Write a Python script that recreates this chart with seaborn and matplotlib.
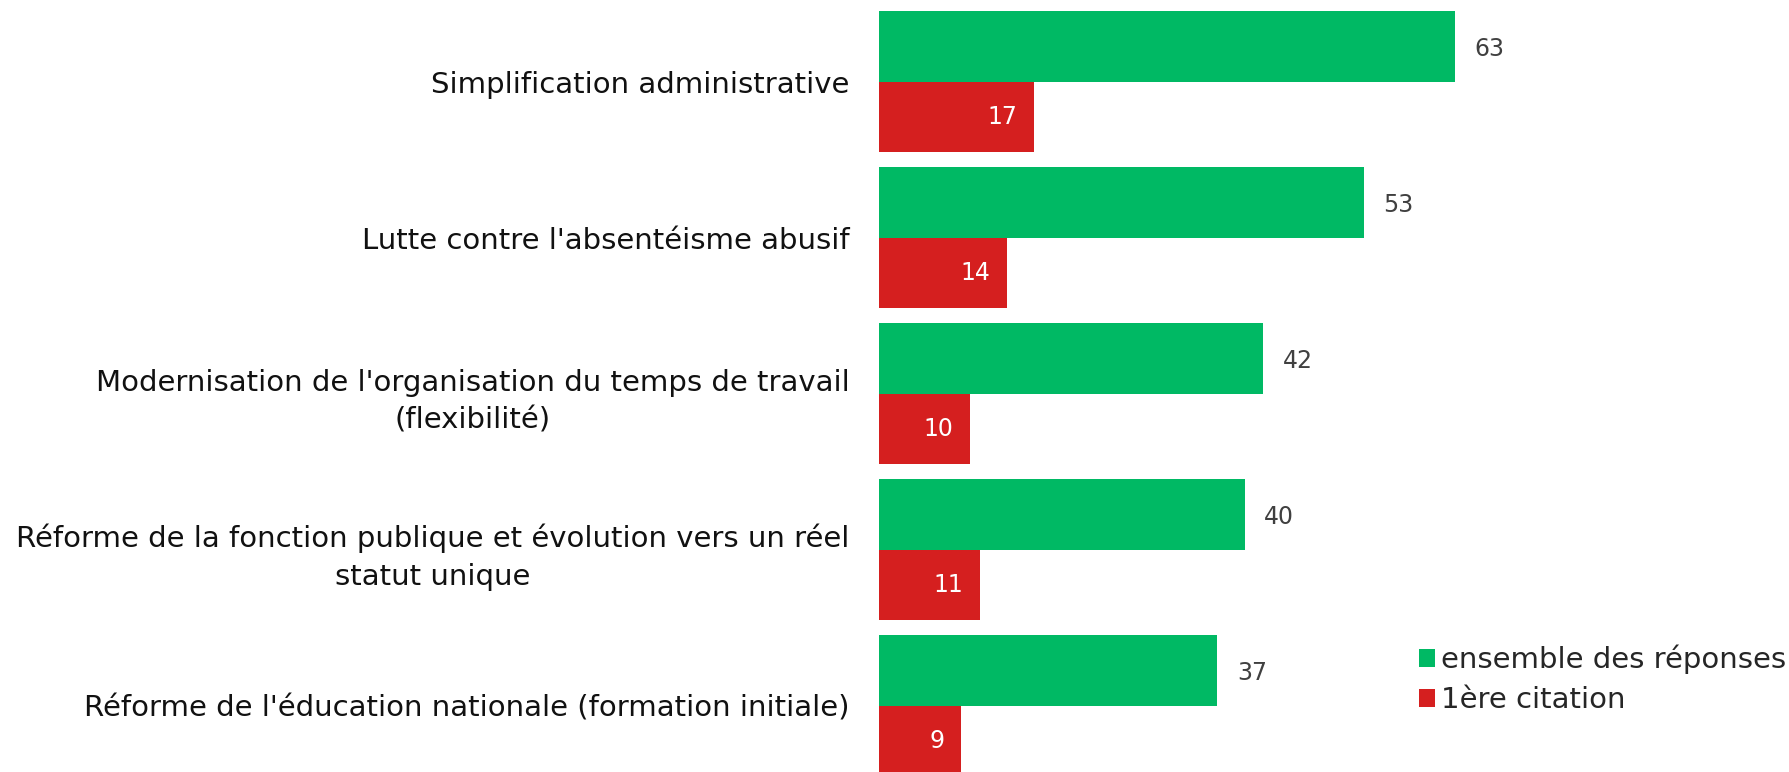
# Importation des modules nécessaires
import matplotlib
matplotlib.use("Agg")
import matplotlib.pyplot as plt
from matplotlib.patches import Patch
import pandas as pd
import seaborn as sns

# Données du graphique
categories = [
    "Simplification administrative",
    "Lutte contre l'absentéisme abusif",
    "Modernisation de l'organisation du temps de travail\n(flexibilité)",
    "Réforme de la fonction publique et évolution vers un réel\nstatut unique",
    "Réforme de l'éducation nationale (formation initiale)",
]
ensemble = [63, 53, 42, 40, 37]
premiere = [17, 14, 10, 11, 9]
series = ["ensemble des réponses", "1ère citation"]
couleurs = ["#00B964", "#D51F1F"]

# Construction du DataFrame au format long
df = pd.DataFrame({
    "categorie": categories * 2,
    "serie": [series[0]] * len(categories) + [series[1]] * len(categories),
    "valeur": ensemble + premiere,
})

sns.set_style("white")
plt.rcParams["font.family"] = ["DejaVu Sans"]

fig = plt.figure(figsize=(17.9, 7.72), dpi=100)
ax = fig.add_axes([0.491, 0.0, 0.509, 1.0])

sns.barplot(data=df, y="categorie", x="valeur", hue="serie", hue_order=series,
            palette=couleurs, orient="h", width=0.9, gap=0, dodge=True,
            saturation=1, linewidth=0, legend=False, ax=ax)

# Limites des axes
ax.set_xlim(0, 99.6)
ax.set_ylim(4.426, -0.523)

# Étiquettes des valeurs
for i, cont in enumerate(ax.containers):
    for bar in cont:
        v = bar.get_width()
        y = bar.get_y() + bar.get_height() / 2
        if i == 0:
            ax.annotate(f"{v:.0f}", (v, y), xytext=(14, -2), textcoords="offset points",
                        ha="left", va="center", fontsize=17, color="#404040")
        else:
            ax.annotate(f"{v:.0f}", (v, y), xytext=(-12, 0), textcoords="offset points",
                        ha="right", va="center", fontsize=17, color="white")

# Mise en forme des axes
ax.set_xlabel("")
ax.set_ylabel("")
ax.set_xticks([])
ax.tick_params(axis="y", length=0, pad=21, labelsize=21, labelcolor="#111111")
for lbl in ax.get_yticklabels():
    lbl.set_multialignment("center")
    lbl.set_linespacing(1.45)
sns.despine(ax=ax, left=True, bottom=True)

# Légende
handles = [Patch(facecolor=c, edgecolor="none") for c in couleurs]
fig.legend(handles, series, loc="upper left", bbox_to_anchor=(0.7927, 0.165),
           frameon=False, fontsize=21, handlelength=0.55, handleheight=0.55,
           handletextpad=0.2, labelspacing=0.42, borderpad=0, borderaxespad=0)

plt.savefig("out.png", dpi=100)
